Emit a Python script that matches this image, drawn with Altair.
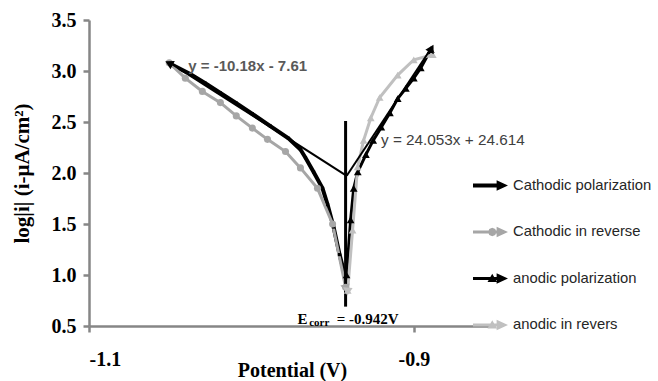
import math
import altair as alt
import pandas as pd

series_names = ["Cathodic polarization", "Cathodic in reverse", "anodic polarization", "anodic in revers"]
series_colors = ["#000000", "#a6a6a6", "#000000", "#c0c0c0"]

# Cathodic polarization (from Ecorr towards negative potentials)
cp_E = [-0.9420, -0.9457, -0.9494, -0.9531, -0.9562, -0.9617, -0.9667, -0.9698, -0.9772,
        -0.9883, -0.9994, -1.0093, -1.0191, -1.0284, -1.0377, -1.0500]
cp_logi = [0.97, 1.20, 1.47, 1.69, 1.85, 2.01, 2.15, 2.23, 2.34,
           2.46, 2.58, 2.685, 2.785, 2.88, 2.97, 3.07]

# Cathodic in reverse
cr_E = [-1.0506, -1.0407, -1.0302, -1.0191, -1.0093, -0.9994, -0.9901, -0.9790,
        -0.9698, -0.9593, -0.9500, -0.9420]
cr_logi = [3.08, 2.93, 2.80, 2.69, 2.56, 2.44, 2.33, 2.21, 2.05, 1.85, 1.50, 0.88]

# anodic polarization
ap_E = [-0.9414, -0.9389, -0.9370, -0.9345, -0.9295, -0.9250, -0.9200, -0.9147,
        -0.9099, -0.9049, -0.9000, -0.8957, -0.8895]
ap_logi = [1.00, 1.54, 1.85, 2.01, 2.18, 2.32, 2.45, 2.59, 2.73, 2.83, 2.93, 3.03, 3.21]

# anodic in revers
ar_E = [-0.8883, -0.9000, -0.9099, -0.9210, -0.9265, -0.9309, -0.9346, -0.9377, -0.9407]
ar_logi = [3.16, 3.11, 2.96, 2.74, 2.54, 2.32, 2.06, 1.44, 0.85]

# Tafel fits
cat_slope, cat_int = -10.18, -7.61
an_slope, an_int = 24.053, 24.614
cat_E_range = [-1.0506, -0.9413]
an_E_range = [-0.9413, -0.8895]
E_corr = -0.942
ecorr_line_logi = [0.69, 2.51]

x_ticks = [-1.1, -0.9]
y_ticks = [0.5, 1.0, 1.5, 2.0, 2.5, 3.0, 3.5]

W, H = 406, 306
X_DOM = [-1.1, -0.85]
Y_DOM = [0.5, 3.5]

all_E = [cp_E, cr_E, ap_E, ar_E]
all_logi = [cp_logi, cr_logi, ap_logi, ar_logi]

xscale = alt.Scale(domain=X_DOM, nice=False, zero=False)
yscale = alt.Scale(domain=Y_DOM, nice=False, zero=False)

x_axis = alt.Axis(values=x_ticks, labelExpr="replace(format(datum.value, '.1f'), '\u2212', '-')",
                  grid=False, domainColor="#868686", domainWidth=2.5, tickColor="#868686",
                  tickWidth=2.5, tickSize=6, labelFont="Liberation Serif", labelFontWeight="bold",
                  labelFontSize=20, labelColor="#000000", labelPadding=17,
                  titleFont="Liberation Serif", titleFontWeight="bold", titleFontSize=20,
                  titleColor="#000000", titleY=34, titleBaseline="top")
y_axis = alt.Axis(values=y_ticks, format=".1f", grid=False, domainColor="#868686", domainWidth=2.5,
                  tickColor="#868686", tickWidth=2.5, tickSize=6, labelFont="Liberation Serif",
                  labelFontWeight="bold", labelFontSize=20, labelColor="#000000", labelPadding=7,
                  titleFont="Liberation Serif", titleFontWeight="bold", titleFontSize=21,
                  titleColor="#000000", titleX=-78, titleBaseline="top")

X = alt.X("E:Q", scale=xscale, axis=x_axis, title="Potential (V)")
Y = alt.Y("logi:Q", scale=yscale, axis=y_axis, title="log|i| (i-\u03bcA/cm\u00b2)")

# legend symbols: arrow, optionally with the series marker on it
ARROW = "M-1,-0.11L0.35,-0.11L0.35,-0.3L1,0L0.35,0.3L0.35,0.11L-1,0.11Z"
ARROW_THIN = "M-1,-0.08L0.35,-0.08L0.35,-0.3L1,0L0.35,0.3L0.35,0.08L-1,0.08Z"
OCT = "M0.1,-0.24L0.27,-0.17L0.34,0L0.27,0.17L0.1,0.24L-0.07,0.17L-0.14,0L-0.07,-0.17Z"
TRI = "M0.1,-0.27L0.37,0.2L-0.17,0.2Z"
legend_shapes = [ARROW, ARROW_THIN + OCT, ARROW_THIN + TRI, ARROW_THIN + TRI]

legend_def = alt.Legend(title=None, orient="none", legendX=384, legendY=148,
                        symbolSize=1225, symbolStrokeWidth=0, symbolOpacity=1,
                        labelFont="Liberation Sans", labelFontSize=14.8, labelColor="#262626",
                        labelOffset=5, rowPadding=21.5, padding=0, labelLimit=200)

# legend-only layer (null coordinates -> no marks, legend from the color/shape scales)
legend_df = pd.DataFrame({"series": series_names, "E": [None] * 4, "logi": [None] * 4})
legend_layer = alt.Chart(legend_df).mark_point(filled=True, opacity=1).encode(
    x=X, y=Y,
    color=alt.Color("series:N", scale=alt.Scale(domain=series_names, range=series_colors),
                    legend=legend_def),
    shape=alt.Shape("series:N", scale=alt.Scale(domain=series_names, range=legend_shapes),
                    legend=legend_def),
)

line_widths = [4, 3, 3, 3]
marker_shapes = ["square", "circle", "triangle-up", "triangle-up"]
marker_sizes = [10, 50, 60, 60]

layers = [legend_layer]
marker_layers = []
arrow_layers = []
for name, xs, ys, col, lw, shp, sz in zip(series_names, all_E, all_logi, series_colors,
                                          line_widths, marker_shapes, marker_sizes):
    sdf = pd.DataFrame({"E": xs, "logi": ys, "order": list(range(len(xs)))})
    layers.append(alt.Chart(sdf).mark_line(color=col, strokeWidth=lw).encode(
        x=X, y=Y, order="order:Q"))
    marker_layers.append(alt.Chart(sdf).mark_point(filled=True, opacity=1, color=col, shape=shp,
                                                   size=sz).encode(x="E:Q", y="logi:Q"))
    # arrowhead at the end of each sweep, oriented along the last segment
    dx = (xs[-1] - xs[-2]) * W / (X_DOM[1] - X_DOM[0])
    dy = -(ys[-1] - ys[-2]) * H / (Y_DOM[1] - Y_DOM[0])
    ang = math.degrees(math.atan2(dx, -dy)) % 360
    adf = pd.DataFrame({"E": [xs[-1]], "logi": [ys[-1]]})
    arrow_layers.append(alt.Chart(adf).mark_point(filled=True, opacity=1, color=col,
                                                  shape="triangle", size=90, angle=ang).encode(
        x="E:Q", y="logi:Q"))

tafel_rows = []
for name, rng, s, c in [("cat", cat_E_range, cat_slope, cat_int), ("an", an_E_range, an_slope, an_int)]:
    for i, x in enumerate(rng):
        tafel_rows.append({"fit": name, "E": x, "logi": s * x + c, "order": i})
tafel_df = pd.DataFrame(tafel_rows)
tafel = alt.Chart(tafel_df).mark_line(color="#000000", strokeWidth=2).encode(
    x="E:Q", y="logi:Q", detail="fit:N", order="order:Q")

ecorr_df = pd.DataFrame({"E": [E_corr, E_corr], "logi": ecorr_line_logi})
vline = alt.Chart(ecorr_df).mark_line(color="#000000", strokeWidth=3).encode(x="E:Q", y="logi:Q")

eq1 = alt.Chart(pd.DataFrame({"E": [-1.0389], "logi": [3.049], "t": ["y = -10.18x  - 7.61"]})).mark_text(
    align="left", baseline="middle", font="Liberation Sans", fontSize=15, fontWeight="bold",
    color="#595959").encode(x="E:Q", y="logi:Q", text="t:N")
eq2 = alt.Chart(pd.DataFrame({"E": [-0.9202], "logi": [2.324], "t": ["y = 24.053x + 24.614"]})).mark_text(
    align="left", baseline="middle", font="Liberation Sans", fontSize=15.3,
    color="#404040").encode(x="E:Q", y="logi:Q", text="t:N")

ec_big = alt.Chart(pd.DataFrame({"E": [-0.9716, -0.9475], "logi": [0.52, 0.52], "t": ["E", "= -0.942V"]})).mark_text(
    align="left", baseline="alphabetic", font="Liberation Serif", fontSize=15, fontWeight="bold",
    color="#000000").encode(x="E:Q", y="logi:Q", text="t:N")
ec_sub = alt.Chart(pd.DataFrame({"E": [-0.9644], "logi": [0.50], "t": ["corr"]})).mark_text(
    align="left", baseline="alphabetic", font="Liberation Serif", fontSize=11, fontWeight="bold",
    color="#000000").encode(x="E:Q", y="logi:Q", text="t:N")

chart = alt.layer(*layers, tafel, vline, *marker_layers, *arrow_layers, eq1, eq2, ec_big, ec_sub).properties(
    width=W, height=H,
    autosize=alt.AutoSizeParams(type="none"),
    padding={"left": 89, "top": 20, "right": 163, "bottom": 55},
    background="#ffffff",
).configure_view(stroke=None)

chart.save("out.html", embed_options={"renderer": "svg", "actions": False})
